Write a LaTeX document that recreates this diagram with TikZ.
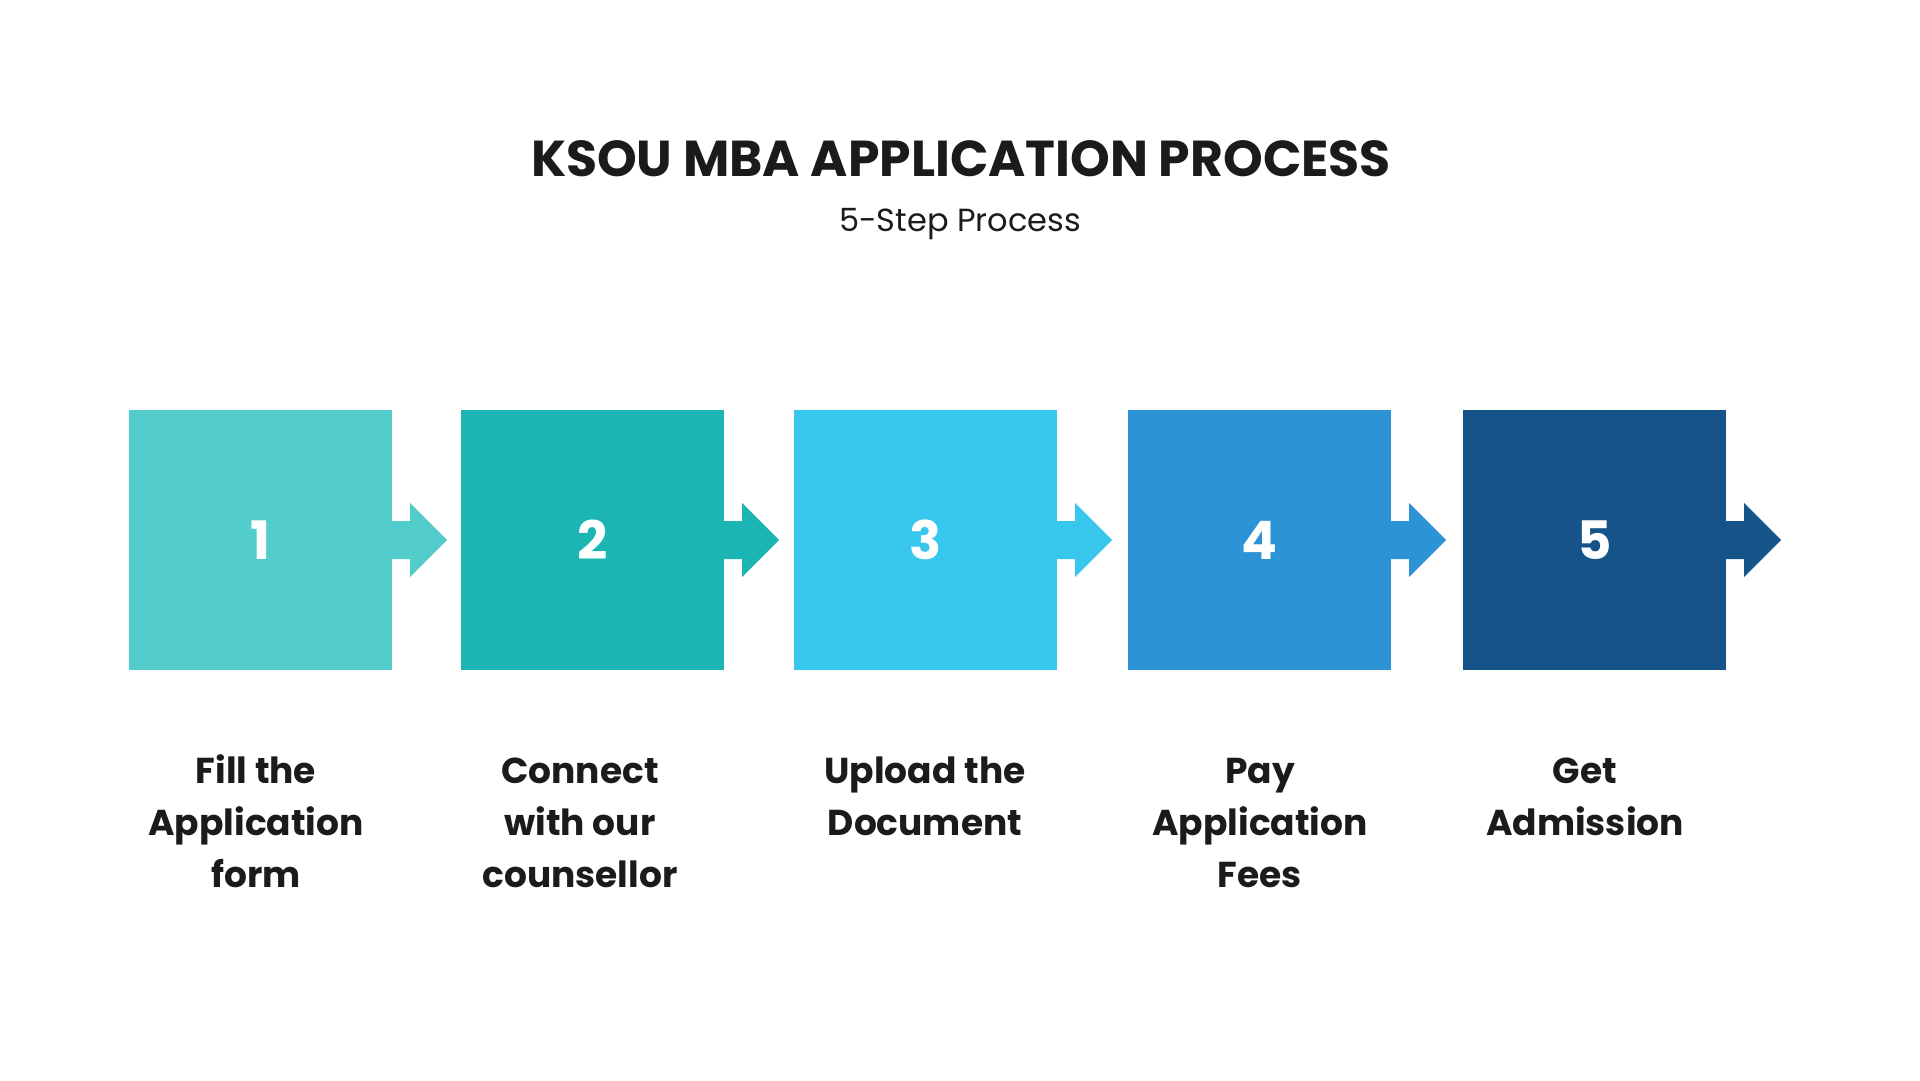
\documentclass[tikz,border=0pt]{standalone}
\usepackage{fontspec}
\setmainfont{Poppins}
\usetikzlibrary{calc}

\definecolor{ink}{HTML}{1B1B1B}
\definecolor{stepA}{HTML}{53CDCB}
\definecolor{stepB}{HTML}{1BB6B4}
\definecolor{stepC}{HTML}{38C7EC}
\definecolor{stepD}{HTML}{2C93D6}
\definecolor{stepE}{HTML}{165388}

\tikzset{
  stepbox/.style={fill=#1,minimum width=263pt,minimum height=260pt,inner sep=0pt,
    text=white,font=\fontsize{53}{53}\selectfont\bfseries},
  % anchored at the baseline of the last line
  steplabel/.style={align=center,anchor=base,text=ink,inner sep=0pt,
    font=\fontsize{36}{52}\selectfont\bfseries}
}
% block arrow leaving the right side of a box
\newcommand\boxarrow[2]{%
  \fill[#2] ($(#1.east)+(0,-19)$) -- ($(#1.east)+(18,-19)$) -- ($(#1.east)+(18,-37)$)
    -- ($(#1.east)+(55,0)$) -- ($(#1.east)+(18,37)$) -- ($(#1.east)+(18,19)$)
    -- ($(#1.east)+(0,19)$) -- cycle;}

\begin{document}
\begin{tikzpicture}[x=1pt,y=-1pt]
  \useasboundingbox[fill=white] (0,0) rectangle (1920,1080);
  % heading
  \node[anchor=base,text=ink,inner sep=0pt,font=\fontsize{50.5}{50.5}\selectfont\bfseries] (title)
    at (961,176) {KSOU MBA APPLICATION PROCESS};
  \node[anchor=base,text=ink,inner sep=0pt,font=\fontsize{32}{32}\selectfont] (subtitle)
    at (960,231) {5-Step Process};
  % the five steps
  \node[stepbox=stepA] (s1) at (260.5,540) {1};
  \node[stepbox=stepB] (s2) at (592.5,540) {2};
  \node[stepbox=stepC] (s3) at (925.5,540) {3};
  \node[stepbox=stepD] (s4) at (1259.5,540) {4};
  \node[stepbox=stepE] (s5) at (1594.5,540) {5};
  \boxarrow{s1}{stepA} \boxarrow{s2}{stepB} \boxarrow{s3}{stepC}
  \boxarrow{s4}{stepD} \boxarrow{s5}{stepE}
  % captions
  \node[steplabel] (l1) at (256,887) {Fill the\\Application\\form};
  \node[steplabel] (l2) at (580,887) {Connect\\with our\\counsellor};
  \node[steplabel] (l3) at (925,835) {Upload the\\Document};
  \node[steplabel] (l4) at (1260,887) {Pay\\Application\\Fees};
  \node[steplabel] (l5) at (1585,835) {Get\\Admission};
\end{tikzpicture}
\end{document}
